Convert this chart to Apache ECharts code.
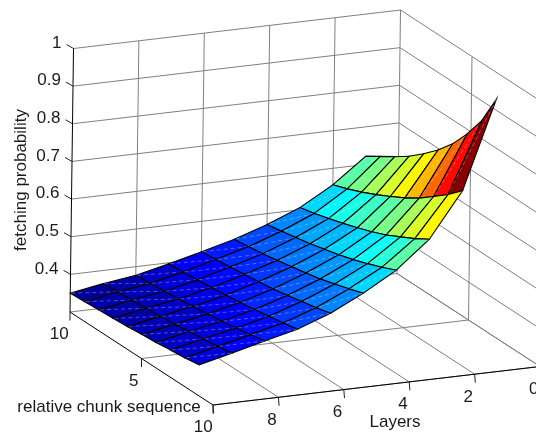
<!DOCTYPE html>
<html>
<head>
<meta charset="utf-8">
<script src="https://cdn.jsdelivr.net/npm/echarts@6/dist/echarts.min.js"></script>
<style>
  html, body { margin: 0; background: #fff; overflow: hidden; }
  #main { width: 536px; height: 435px; }
</style>
</head>
<body>
<div id="main"></div>
<script>
// chart values, each list runs over chunk = 1..10
const layers = [1, 2, 3, 4, 5, 6, 7, 8, 9, 10];
const chunks = [1, 2, 3, 4, 5, 6, 7, 8, 9, 10];
const probLayer1 = [0.996, 0.914, 0.854, 0.803, 0.762, 0.727, 0.696, 0.670, 0.646, 0.622];
const probLayer2 = [0.763, 0.728, 0.698, 0.669, 0.645, 0.624, 0.604, 0.586, 0.570, 0.556];
const probLayer3 = [0.644, 0.621, 0.601, 0.581, 0.565, 0.551, 0.538, 0.526, 0.515, 0.506];
const probLayer4 = [0.572, 0.555, 0.540, 0.526, 0.514, 0.504, 0.494, 0.486, 0.478, 0.471];
const probLayer5 = [0.521, 0.508, 0.496, 0.485, 0.476, 0.468, 0.460, 0.453, 0.447, 0.442];
const probLayer6 = [0.478, 0.468, 0.460, 0.451, 0.444, 0.438, 0.433, 0.428, 0.423, 0.419];
const probLayer7 = [0.446, 0.438, 0.431, 0.424, 0.418, 0.413, 0.408, 0.404, 0.400, 0.397];
const probLayer8 = [0.425, 0.417, 0.410, 0.403, 0.398, 0.393, 0.388, 0.384, 0.380, 0.377];
const probLayer9 = [0.403, 0.396, 0.391, 0.386, 0.381, 0.377, 0.374, 0.371, 0.368, 0.365];
const probLayer10 = [0.382, 0.376, 0.372, 0.367, 0.364, 0.360, 0.357, 0.355, 0.352, 0.350];
const probRows = [probLayer1, probLayer2, probLayer3, probLayer4, probLayer5,
  probLayer6, probLayer7, probLayer8, probLayer9, probLayer10];

const layerTicks = [10, 8, 6, 4, 2, 0];
const chunkTicks = [10, 5, 0];
const chunkTickLabels = ['10', '5', ''];
const probTicks = [0.4, 0.5, 0.6, 0.7, 0.8, 0.9, 1];
const probTickLabels = ['0.4', '0.5', '0.6', '0.7', '0.8', '0.9', '1'];

// axis limits
const layerMin = 0, layerMax = 10, chunkMin = 0, chunkMax = 10, probMin = 0.3, probMax = 1;

// view of the box on the page: where the corner sits and where each axis runs
const origin = [70, 312];
const layerDir = [327, -38.5];
const chunkDir = [143, 93];
const probDir = [3.5, -263.5];

function project(layer, chunk, prob) {
  const a = (layerMax - layer) / (layerMax - layerMin);
  const b = (chunkMax - chunk) / (chunkMax - chunkMin);
  const c = (prob - probMin) / (probMax - probMin);
  return [
    origin[0] + a * layerDir[0] + b * chunkDir[0] + c * probDir[0],
    origin[1] + a * layerDir[1] + b * chunkDir[1] + c * probDir[1]
  ];
}

// matlab jet, 64 steps
function jet(t) {
  const level = Math.min(63, Math.max(0, Math.floor(t * 64)));
  const v = (level + 0.5) / 64 * 4;
  const ch = (x) => Math.round(255 * Math.max(0, Math.min(1, 1.5 - Math.abs(v - x))));
  return 'rgb(' + ch(3) + ',' + ch(2) + ',' + ch(1) + ')';
}

const allProbs = probRows.flat();
const colorMin = Math.min(...allProbs);
const colorMax = Math.max(...allProbs);

const textColor = '#1a1a1a';
const fontFamily = '"Liberation Sans", Arial, sans-serif';
const fontSize = 17;
const gridColor = '#808080';

// grey lines on the two walls and the floor
const gridSegments = [];
probTicks.concat([probMin]).forEach((p) => {
  gridSegments.push([[layerMax, chunkMax, p], [layerMin, chunkMax, p]]);
  gridSegments.push([[layerMin, chunkMax, p], [layerMin, chunkMin, p]]);
});
layerTicks.forEach((l) => {
  if (l !== layerMax) {
    gridSegments.push([[l, chunkMax, probMin], [l, chunkMax, probMax]]);
    gridSegments.push([[l, chunkMax, probMin], [l, chunkMin, probMin]]);
  }
});
chunkTicks.forEach((c) => {
  if (c !== chunkMax) {
    gridSegments.push([[layerMax, c, probMin], [layerMin, c, probMin]]);
    gridSegments.push([[layerMin, c, probMin], [layerMin, c, probMax]]);
  }
});

// black axis lines
const axisSegments = [
  [[layerMax, chunkMax, probMin], [layerMax, chunkMax, probMax]],
  [[layerMax, chunkMax, probMin], [layerMax, chunkMin, probMin]],
  [[layerMax, chunkMin, probMin], [layerMin, chunkMin, probMin]]
];

// cells, far ones first so the near ones paint over them
const cells = [];
for (let i = 0; i < layers.length - 1; i++) {
  for (let j = chunks.length - 2; j >= 0; j--) {
    cells.push([i, j]);
  }
}

function toPixel(api, p) {
  return api.coord(project(p[0], p[1], p[2]));
}

function renderSegment(list, color) {
  return function (params, api) {
    const s = list[params.dataIndex];
    const a = toPixel(api, s[0]);
    const b = toPixel(api, s[1]);
    return {
      type: 'line',
      shape: { x1: a[0], y1: a[1], x2: b[0], y2: b[1] },
      style: { stroke: color, lineWidth: 1 }
    };
  };
}

function renderCell(params, api) {
  const i = cells[params.dataIndex][0];
  const j = cells[params.dataIndex][1];
  const p00 = toPixel(api, [layers[i], chunks[j], probRows[i][j]]);
  const p01 = toPixel(api, [layers[i], chunks[j + 1], probRows[i][j + 1]]);
  const p11 = toPixel(api, [layers[i + 1], chunks[j + 1], probRows[i + 1][j + 1]]);
  const p10 = toPixel(api, [layers[i + 1], chunks[j], probRows[i + 1][j]]);
  // flat shading takes the colour of the first corner
  const color = jet((probRows[i][j] - colorMin) / (colorMax - colorMin));
  return {
    type: 'group',
    children: [
      {
        type: 'polygon',
        shape: { points: [p00, p01, p11, p10] },
        style: { fill: color, stroke: '#000', lineWidth: 1.1 }
      },
      // faint light seam along the long diagonal of each cell
      {
        type: 'line',
        shape: { x1: p00[0], y1: p00[1], x2: p11[0], y2: p11[1] },
        style: { stroke: 'rgba(255,255,255,0.3)', lineWidth: 1, lineDash: [4, 3] }
      }
    ]
  };
}

// tick marks and labels
const tickSegments = [];
probTicks.forEach((p) => tickSegments.push({ at: [layerMax, chunkMax, p], d: [-7, -4] }));
chunkTicks.forEach((c) => tickSegments.push({ at: [layerMax, c, probMin], d: [0, 8.5] }));
layerTicks.forEach((l) => tickSegments.push({ at: [l, chunkMin, probMin], d: [0.7, 8.5] }));

const tickTexts = [];
probTicks.forEach((p, i) => tickTexts.push({ at: [layerMax, chunkMax, p], d: [-12, -5.5], text: probTickLabels[i], align: 'right' }));
chunkTicks.forEach((c, i) => tickTexts.push({ at: [layerMax, c, probMin], d: [c === 10 ? -10.7 : -7.7, 22.8], text: chunkTickLabels[i], align: 'center' }));
layerTicks.forEach((l) => tickTexts.push({ at: [l, chunkMin, probMin], d: [l === 10 ? -9.7 : -6.3, 22.7], text: String(l), align: 'center' }));

const axisTitles = [
  { text: 'relative chunk sequence', x: 109, y: 407, rotation: 0 },
  { text: 'Layers', x: 395, y: 422, rotation: 0 },
  { text: 'fetching probability', x: 21, y: 180, rotation: Math.PI / 2 }
];

function renderTick(params, api) {
  const t = tickSegments[params.dataIndex];
  const a = toPixel(api, t.at);
  return {
    type: 'line',
    shape: { x1: a[0], y1: a[1], x2: a[0] + t.d[0], y2: a[1] + t.d[1] },
    style: { stroke: '#222', lineWidth: 1 }
  };
}

function renderTickText(params, api) {
  const t = tickTexts[params.dataIndex];
  const a = toPixel(api, t.at);
  return {
    type: 'text',
    style: {
      x: a[0] + t.d[0], y: a[1] + t.d[1], text: t.text, align: t.align, verticalAlign: 'middle',
      fontSize: fontSize, fontFamily: fontFamily, fill: textColor
    }
  };
}

function renderTitle(params, api) {
  const t = axisTitles[params.dataIndex];
  const a = api.coord([t.x, t.y]);
  return {
    type: 'text',
    x: a[0], y: a[1], rotation: t.rotation,
    style: {
      x: 0, y: 0, text: t.text, align: 'center', verticalAlign: 'middle',
      fontSize: fontSize, fontFamily: fontFamily, fill: textColor
    }
  };
}

function customSeries(list, render) {
  return {
    type: 'custom',
    coordinateSystem: 'cartesian2d',
    renderItem: render,
    data: list.map(() => [0, 0]),
    clip: false,
    silent: true,
    animation: false
  };
}

const myChart = echarts.init(document.getElementById('main'), null, { renderer: 'canvas' });
const option = {
  backgroundColor: '#fff',
  animation: false,
  // page-sized plane that the view above lands on
  grid: { left: 0, right: 0, top: 0, bottom: 0 },
  xAxis: { type: 'value', min: 0, max: 536, show: false },
  yAxis: { type: 'value', min: 0, max: 435, inverse: true, show: false },
  series: [
    customSeries(gridSegments, renderSegment(gridSegments, gridColor)),
    customSeries(axisSegments, renderSegment(axisSegments, '#000')),
    customSeries(cells, renderCell),
    customSeries(tickSegments, renderTick),
    customSeries(tickTexts, renderTickText),
    customSeries(axisTitles, renderTitle)
  ]
};
myChart.setOption(option);
</script>
</body>
</html>
